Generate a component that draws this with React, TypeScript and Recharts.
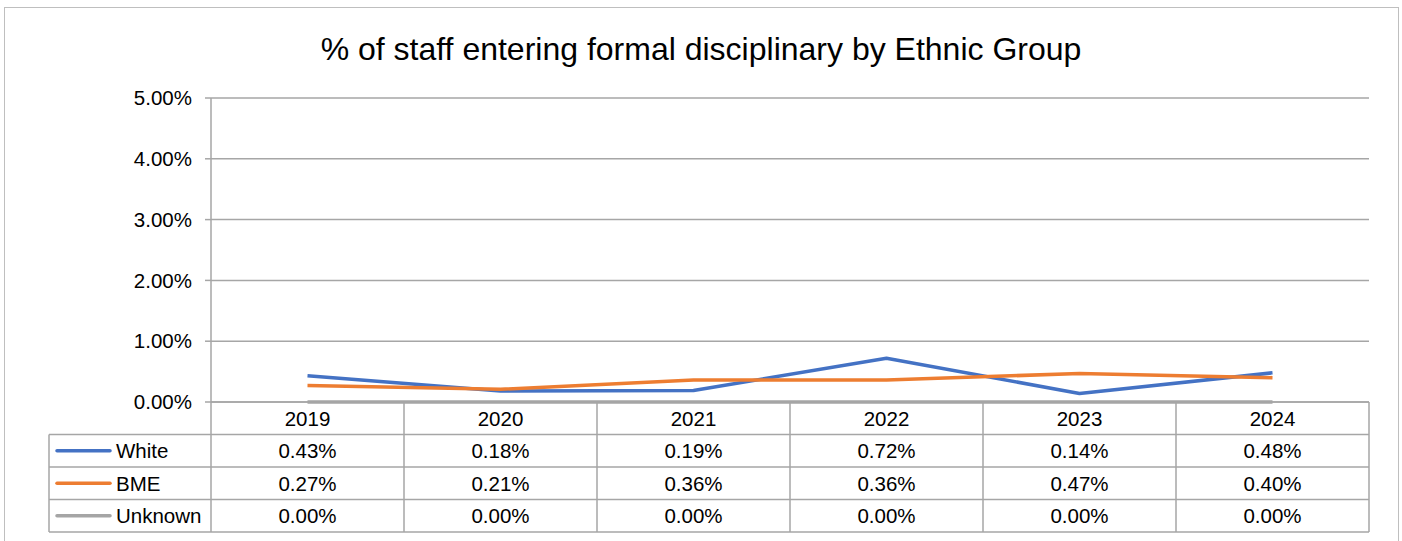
import React from 'react';
import { LineChart, Line, XAxis, YAxis, CartesianGrid } from 'recharts';

const years = ['2019', '2020', '2021', '2022', '2023', '2024'];
const white = [0.43, 0.18, 0.19, 0.72, 0.14, 0.48];
const bme = [0.27, 0.21, 0.36, 0.36, 0.47, 0.4];
const unknown = [0, 0, 0, 0, 0, 0];
const yTicks = [0, 1, 2, 3, 4, 5];

const series = [
  { key: 'White', color: '#4472C4', values: white },
  { key: 'BME', color: '#ED7D31', values: bme },
  { key: 'Unknown', color: '#A5A5A5', values: unknown },
];

const data = years.map((year, i) => ({
  year,
  White: white[i],
  BME: bme[i],
  Unknown: unknown[i],
}));

const pct = (v: number) => `${v.toFixed(2)}%`;

const W = 1402;
const H = 541;
const MARGIN = { top: 98, right: 33, bottom: 9, left: 111 };
const Y_AXIS_W = 100;
const X_AXIS_H = 130;
const PLOT_BOTTOM = H - MARGIN.bottom - X_AXIS_H;
const ROW_H = 32.5;
const LEGEND_W = 162;
const LINE_GREY = '#A6A6A6';
const FONT = '"Liberation Sans", Arial, sans-serif';
const TEXT_SIZE = 20.5;

// Each x tick draws one column of the data table under the plot;
// the first one also draws the legend column on the left.
const TableColumn = (props: any) => {
  const { x, payload, index } = props;
  const half = payload.offset || (W - MARGIN.left - Y_AXIS_W - MARGIN.right) / years.length / 2;
  const top = PLOT_BOTTOM;
  const bottom = top + ROW_H * (series.length + 1);
  const left = x - half;
  const right = x + half;
  const rowMid = (r: number) => top + ROW_H * (r + 0.5);

  return (
    <g fontFamily={FONT} fontSize={TEXT_SIZE} fill="#000">
      <text x={x} y={rowMid(0)} textAnchor="middle" dominantBaseline="central">
        {payload.value}
      </text>
      {series.map((s, r) => (
        <text key={s.key} x={x} y={rowMid(r + 1)} textAnchor="middle" dominantBaseline="central">
          {pct(s.values[index])}
        </text>
      ))}
      {series.map((s, r) => (
        <line key={s.key} x1={left} x2={right} y1={top + ROW_H * (r + 1)} y2={top + ROW_H * (r + 1)} stroke={LINE_GREY} strokeWidth={1.5} />
      ))}
      <line x1={left} x2={right} y1={bottom} y2={bottom} stroke={LINE_GREY} strokeWidth={1.5} />
      <line x1={right} x2={right} y1={top} y2={bottom} stroke={LINE_GREY} strokeWidth={1.5} />
      {index === 0 && (
        <g>
          <line x1={left} x2={left} y1={top} y2={bottom} stroke={LINE_GREY} strokeWidth={1.5} />
          <line x1={left - LEGEND_W} x2={left - LEGEND_W} y1={top + ROW_H} y2={bottom} stroke={LINE_GREY} strokeWidth={1.5} />
          {series.map((s, r) => (
            <g key={s.key}>
              <line x1={left - LEGEND_W} x2={left} y1={top + ROW_H * (r + 1)} y2={top + ROW_H * (r + 1)} stroke={LINE_GREY} strokeWidth={1.5} />
              <line x1={left - LEGEND_W + 8} x2={left - LEGEND_W + 61} y1={rowMid(r + 1)} y2={rowMid(r + 1)} stroke={s.color} strokeWidth={3.5} strokeLinecap="round" />
              <text x={left - LEGEND_W + 67} y={rowMid(r + 1)} dominantBaseline="central">
                {s.key}
              </text>
            </g>
          ))}
          <line x1={left - LEGEND_W} x2={left} y1={bottom} y2={bottom} stroke={LINE_GREY} strokeWidth={1.5} />
        </g>
      )}
    </g>
  );
};

export default function App() {
  return (
    <div style={{ position: 'absolute', left: 0, top: 0, width: W, height: H, overflow: 'hidden', background: '#fff' }}>
      <div style={{ position: 'absolute', left: 4, top: 7, width: 1393, height: 600, border: '1px solid #BFBFBF' }} />
      <div
        style={{
          position: 'absolute',
          left: 0,
          top: 33,
          width: W,
          textAlign: 'center',
          fontFamily: FONT,
          fontSize: 32,
          lineHeight: 1,
          color: '#000',
        }}
      >
        % of staff entering formal disciplinary by Ethnic Group
      </div>
      <div style={{ position: 'absolute', left: 0, top: 0 }}>
        <LineChart width={W} height={H} data={data} margin={MARGIN}>
          <CartesianGrid vertical={false} stroke={LINE_GREY} strokeWidth={1.5} />
          <XAxis
            dataKey="year"
            scale="band"
            height={X_AXIS_H}
            axisLine={{ stroke: LINE_GREY, strokeWidth: 1.5 }}
            tickLine={false}
            tickSize={0}
            tick={<TableColumn />}
            interval={0}
          />
          <YAxis
            domain={[0, 5]}
            ticks={yTicks}
            width={Y_AXIS_W}
            tickFormatter={pct}
            axisLine={{ stroke: LINE_GREY, strokeWidth: 1.5 }}
            tickLine={{ stroke: LINE_GREY, strokeWidth: 1.5 }}
            tickSize={6}
            tickMargin={13}
            tick={{ fill: '#000', fontSize: TEXT_SIZE, fontFamily: FONT }}
          />
          {series.map((s) => (
            <Line
              key={s.key}
              dataKey={s.key}
              type="linear"
              stroke={s.color}
              strokeWidth={3.5}
              strokeLinejoin="round"
              dot={false}
              activeDot={false}
              isAnimationActive={false}
            />
          ))}
        </LineChart>
      </div>
    </div>
  );
}
